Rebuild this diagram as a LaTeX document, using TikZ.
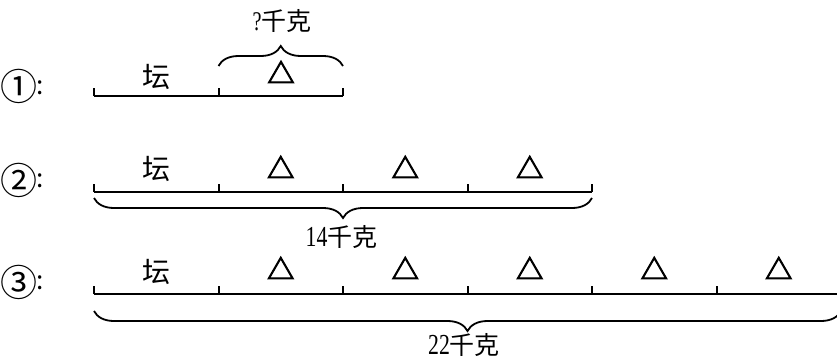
\documentclass[tikz,border=0pt]{standalone}
\usepackage{fontspec}
\setmainfont{Liberation Serif}
\newfontfamily\cjk{Noto Sans CJK SC}
\newfontfamily\tri[FakeBold=4]{Noto Sans CJK SC}
\newfontfamily\numf[FakeStretch=0.75]{Liberation Serif}
\usetikzlibrary{decorations.pathreplacing}
\begin{document}
\begin{tikzpicture}[x=1pt,y=-1pt,
  seg/.style={line width=2pt},
  tickmark/.style={line width=2pt},
  brc/.style={decorate,decoration={brace,amplitude=20pt},line width=1.8pt},
  lab/.style={font=\cjk\fontsize{28}{28}\selectfont,inner sep=0pt},
  trilab/.style={font=\tri\fontsize{27}{27}\selectfont,inner sep=0pt},
  circlab/.style={font=\cjk\fontsize{37}{37}\selectfont,inner sep=0pt},
  colonlab/.style={font=\cjk\fontsize{26}{26}\selectfont,inner sep=0pt},
  sumlab/.style={font=\cjk\fontsize{25}{25}\selectfont,inner sep=0pt}]
\clip (0,0) rectangle (837,361);
% row labels
\node[circlab] (r1) at (19,86.5) {①};
\node[colonlab] (r1c) at (40.5,87.5) {:};
\node[circlab] (r2) at (19,180) {②};
\node[colonlab] (r2c) at (40.5,181) {:};
\node[circlab] (r3) at (19,282) {③};
\node[colonlab] (r3c) at (40.5,283) {:};
% row 1
\foreach \i in {0,1,2} \coordinate (a\i) at ({94+124.5*\i},96);
\draw[seg] (a0) -- (a2);
\foreach \i in {0,1,2} \draw[tickmark] (a\i) -- ++(0,-8);
\node[lab] (a1t) at (156.5,76.5) {坛};
\node[trilab] (a2t) at (281,72) {△};
\coordinate (b1s) at (218.5,66);
\coordinate (b1e) at (343,66);
\draw[brc] (b1s) -- (b1e);
\node[sumlab] (s1) at (282,21.5) {{\numf\fontsize{27}{27}\selectfont ?}千克};
% row 2
\foreach \i in {0,...,4} \coordinate (b\i) at ({94+124.5*\i},192);
\draw[seg] (b0) -- (b4);
\foreach \i in {0,...,4} \draw[tickmark] (b\i) -- ++(0,-8);
\node[lab] (b1t) at (156.5,168.5) {坛};
\foreach \i in {1,2,3} \node[trilab] (b\i t) at ({94+124.5*\i+62.25},167) {△};
\coordinate (b2s) at (592,198);
\coordinate (b2e) at (94,198);
\draw[brc] (b2s) -- (b2e);
\node[sumlab] (s2) at (341.5,237) {{\numf\fontsize{29}{29}\selectfont 14}千克};
% row 3
\foreach \i in {0,...,6} \coordinate (c\i) at ({94+124.5*\i},294);
\draw[seg] (c0) -- (c6);
\foreach \i in {0,...,6} \draw[tickmark] (c\i) -- ++(0,-8);
\node[lab] (c1t) at (156.5,272) {坛};
\foreach \i in {1,...,5} \node[trilab] (c\i t) at ({94+124.5*\i+62.25},268) {△};
\coordinate (b3s) at (841,311);
\coordinate (b3e) at (94,311);
\draw[brc] (b3s) -- (b3e);
\node[sumlab] (s3) at (464,345) {{\numf\fontsize{29}{29}\selectfont 22}千克};
\end{tikzpicture}
\end{document}
